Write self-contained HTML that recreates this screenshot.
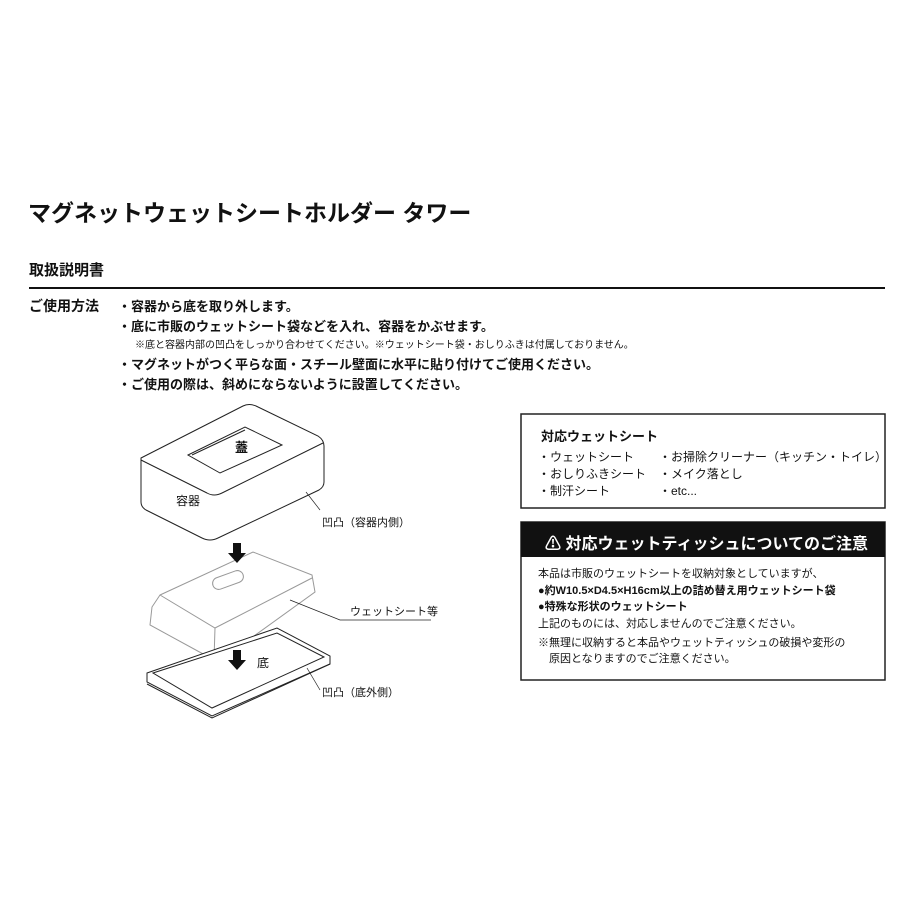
<!DOCTYPE html>
<html><head><meta charset="utf-8"><style>
body{margin:0;width:900px;height:900px;background:#fff;position:relative;font-family:"Liberation Sans","Noto Sans CJK JP",sans-serif;color:#111;overflow:hidden}
.a{position:absolute;white-space:nowrap}
.b{font-weight:bold}
</style></head><body>
<div class="a b" style="left:28px;top:194px;font-size:23px">マグネットウェットシートホルダー タワー</div>
<div class="a b" style="left:29px;top:259px;font-size:15px">取扱説明書</div>
<div class="a" style="left:29px;top:287px;width:856px;height:2px;background:#111"></div>
<div class="a b" style="left:29px;top:296px;font-size:14px">ご使用方法</div>
<div class="a b" style="left:118px;top:296px;font-size:13px">・容器から底を取り外します。</div>
<div class="a b" style="left:118px;top:316px;font-size:13px">・底に市販のウェットシート袋などを入れ、容器をかぶせます。</div>
<div class="a" style="left:135px;top:336px;font-size:10px">※底と容器内部の凹凸をしっかり合わせてください。※ウェットシート袋・おしりふきは付属しておりません。</div>
<div class="a b" style="left:118px;top:354px;font-size:13px">・マグネットがつく平らな面・スチール壁面に水平に貼り付けてご使用ください。</div>
<div class="a b" style="left:118px;top:374px;font-size:13px">・ご使用の際は、斜めにならないように設置してください。</div>

<svg class="a" style="left:0;top:0" width="900" height="900" fill="none" stroke="#222" stroke-width="1">
<path d="M141 458 L243 406 Q249 403 256 406 L318 436 Q324 440 324 446 L324 482 Q324 487 319 490 L218 538 Q210 542 202 538 L146 510 Q141 507 141 502 Z" fill="#fff"/>
<path d="M141 460 L207 493 Q214 497 222 493 L323 443"/>
<path d="M188 455 L245 427 L282 445 L220 473 Z"/>
<path d="M192 455 L245 430"/>
<path d="M306 492 L320 510" stroke-width="0.7"/>
<path d="M160 595 L253 552 L312 575 L315 592 L218 662 L205 655 L150 625 L152 607 Z" stroke="#999" fill="#fff"/>
<path d="M160 595 L215 628 L312 578 M215 628 L214 660" stroke="#999"/>
<rect x="212" y="574" width="32" height="12" rx="6" stroke="#999" transform="rotate(-20 228 580)"/>
<path d="M290 600 L340 620 L431 620" stroke-width="0.7"/>
<path d="M147 673 L277 628 L330 656 L330 664 L212 716 L147 682 Z" fill="#fff"/>
<path d="M153 673 L277 633 L324 657 L212 708 Z"/>
<path d="M147 684 L212 718 L330 664"/>
<path d="M307 668 L320 690" stroke-width="0.7"/>
<path d="M233 543 h8 v10 h5 l-9 10 l-9 -10 h5z M233 650 h8 v10 h5 l-9 10 l-9 -10 h5z" fill="#111" stroke="none"/>
<rect x="521" y="414" width="364" height="94" stroke-width="1.5"/>
<rect x="521" y="522" width="364" height="158" stroke-width="1.5"/>
<rect x="521" y="522" width="364" height="35" fill="#111" stroke="none"/>
</svg>
<div class="a b" style="left:235px;top:437px;font-size:13px">蓋</div>
<div class="a" style="left:176px;top:492px;font-size:12px">容器</div>
<div class="a" style="left:322px;top:514px;font-size:11px">凹凸（容器内側）</div>
<div class="a" style="left:350px;top:603px;font-size:11px">ウェットシート等</div>
<div class="a" style="left:257px;top:654px;font-size:12px">底</div>
<div class="a" style="left:322px;top:684px;font-size:11px">凹凸（底外側）</div>

<div class="a b" style="left:541px;top:426px;font-size:13px">対応ウェットシート</div>
<div class="a" style="left:538px;top:449px;font-size:12px;line-height:17px">・ウェットシート<br>・おしりふきシート<br>・制汗シート</div>
<div class="a" style="left:659px;top:449px;font-size:12px;line-height:17px">・お掃除クリーナー（キッチン・トイレ）<br>・メイク落とし<br>・etc...</div>
<div class="a b" style="left:545px;top:530px;font-size:16px;color:#fff">⚠ 対応ウェットティッシュについてのご注意</div>
<div class="a" style="left:538px;top:566px;font-size:11px;line-height:16.5px">本品は市販のウェットシートを収納対象としていますが、<br><b>●約W10.5×D4.5×H16cm以上の詰め替え用ウェットシート袋</b><br><b>●特殊な形状のウェットシート</b><br>上記のものには、対応しませんのでご注意ください。</div>
<div class="a" style="left:538px;top:635px;font-size:11px;line-height:16px">※無理に収納すると本品やウェットティッシュの破損や変形の<br>　原因となりますのでご注意ください。</div>
</body></html>
